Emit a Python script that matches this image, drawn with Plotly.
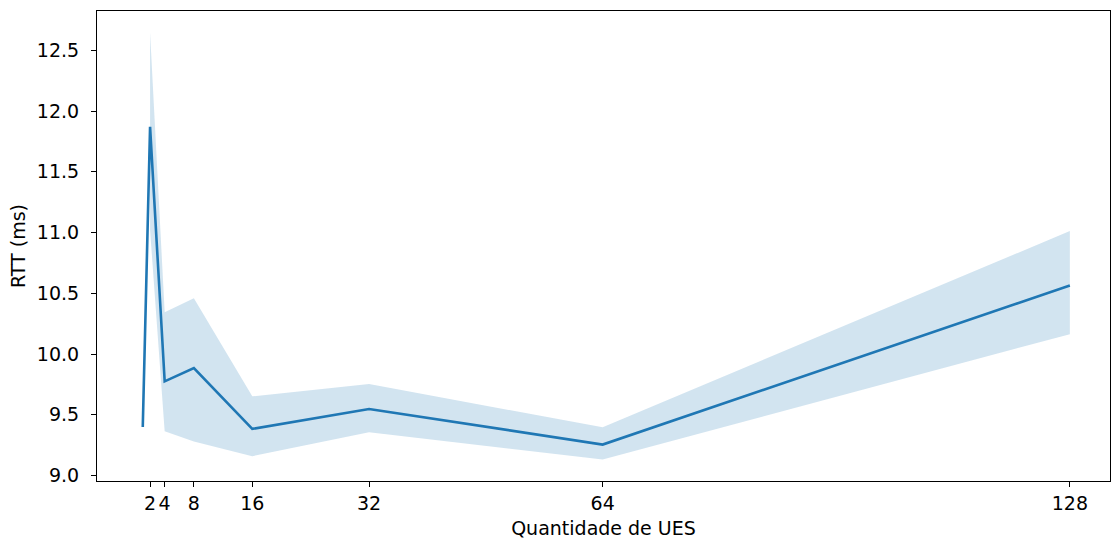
import plotly.graph_objects as go

# Mean RTT per number of UEs, with the confidence interval bounds
ues = [1, 2, 4, 8, 16, 32, 64, 128]
rtt_mean = [9.40, 11.87, 9.775, 9.885, 9.384, 9.548, 9.255, 10.564]

ci_x = [2, 4, 8, 16, 32, 64, 128]
ci_upper = [12.648, 10.345, 10.46, 9.652, 9.753, 9.397, 11.013]
ci_lower = [11.02, 9.364, 9.28, 9.159, 9.356, 9.131, 10.164]

x_ticks = [2, 4, 8, 16, 32, 64, 128]
y_ticks = [9.0, 9.5, 10.0, 10.5, 11.0, 11.5, 12.0, 12.5]

blue = "#1f77b4"
FONT = 19

fig = go.Figure()

# confidence band
fig.add_trace(go.Scatter(
    x=ci_x + ci_x[::-1],
    y=ci_upper + ci_lower[::-1],
    fill="toself",
    fillcolor="rgba(31,119,180,0.2)",
    line=dict(width=0),
    mode="lines",
    hoverinfo="skip",
    showlegend=False,
))

# mean line
fig.add_trace(go.Scatter(
    x=ues, y=rtt_mean,
    mode="lines",
    line=dict(color=blue, width=2.6),
    showlegend=False,
))

axis_common = dict(
    showline=True, linecolor="black", linewidth=1.1, mirror=True,
    ticks="outside", ticklen=5, tickwidth=1.1, tickcolor="black",
    showgrid=False, zeroline=False,
    tickfont=dict(family="DejaVu Sans", size=FONT, color="black"),
)

fig.update_layout(
    width=1111, height=541,
    margin=dict(l=97, r=1, t=11, b=60),
    plot_bgcolor="white", paper_bgcolor="white",
    font=dict(family="DejaVu Sans", size=FONT, color="black"),
    xaxis=dict(
        range=[-5.27, 133.5],
        tickmode="array", tickvals=x_ticks, ticktext=[str(v) for v in x_ticks],
        ticklabelstandoff=0,
        title=dict(text="Quantidade de UES", font=dict(size=FONT), standoff=8),
        **axis_common,
    ),
    yaxis=dict(
        range=[8.955, 12.824],
        tickmode="array", tickvals=y_ticks, ticktext=[f"{v:.1f}" for v in y_ticks],
        ticklabelstandoff=8,
        title=dict(text="RTT (ms)", font=dict(size=FONT), standoff=6),
        **axis_common,
    ),
)

fig.write_html("out.html")
